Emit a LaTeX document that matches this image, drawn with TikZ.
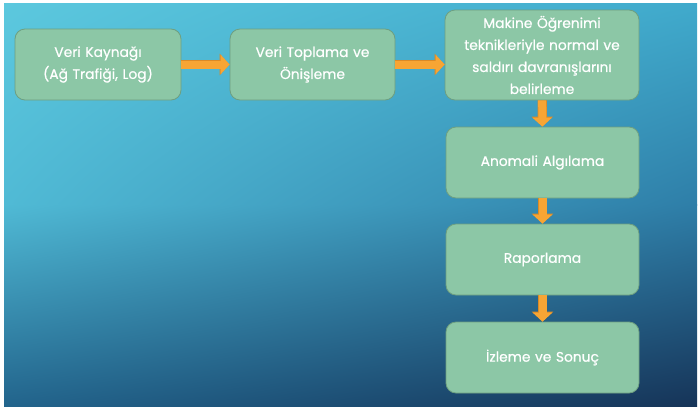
\documentclass[tikz,border=0pt]{standalone}
\usepackage{fontspec}
\setmainfont{Poppins}
\newfontfamily\stagefont{Poppins}[FakeBold=0.7]
\usetikzlibrary{arrows.meta, shadings}
\definecolor{boxfill}{HTML}{8CC7A6}
\definecolor{boxline}{HTML}{6E9F80}
\definecolor{arrowfill}{HTML}{F7A534}
\definecolor{arrowline}{HTML}{DB8A26}
\definecolor{skyA}{RGB}{92,200,222}
\definecolor{skyB}{RGB}{64,170,204}
\definecolor{skyC}{RGB}{80,186,213}
\definecolor{skyD}{RGB}{46,126,168}
\definecolor{skyE}{RGB}{34,100,140}
\definecolor{skyF}{RGB}{22,52,88}
\tikzset{
    stage/.style = {draw=boxline, fill=boxfill, line width=0.8pt, rounded corners=10pt,
        text=white, align=center, inner sep=3pt, font=\stagefont\fontsize{13.8}{22}\selectfont},
    flow/.style = {arrowfill, line width=8pt, -{Triangle[length=9pt, width=19pt]},
        preaction={draw=arrowline, line width=9.2pt, -{Triangle[length=10pt, width=21pt]}}}
}

\begin{document}
\begin{tikzpicture}[x=1pt, y=-1pt]
    \useasboundingbox (0,0) rectangle (698,410);
    \fill[white] (0,0) rectangle (698,410);
    \shade[upper left=skyA, upper right=skyB, lower left=skyC, lower right=skyD]
        (4,3) rectangle (697,205);
    \shade[upper left=skyC, upper right=skyD, lower left=skyE, lower right=skyF]
        (4,204.5) rectangle (697,406);

    \node[stage, text width=160pt, minimum height=71pt] (source) at (98,64.5)
        {Veri Kaynağı\\(Ağ Trafiği, Log)};
    \node[stage, text width=159pt, minimum height=71pt] (collect) at (312.5,64.5)
        {Veri Toplama ve\\Önişleme};
    \node[stage, text width=188pt, minimum height=90pt] (learn) at (542,55)
        {Makine Öğrenimi\\teknikleriyle normal ve\\saldırı davranışlarını\\belirleme};
    \node[stage, text width=187pt, minimum height=71pt] (detect) at (542.5,162.5)
        {Anomali Algılama};
    \node[stage, text width=187pt, minimum height=71pt] (report) at (542.5,259.5)
        {Raporlama};
    \node[stage, text width=187pt, minimum height=71pt] (monitor) at (542.5,357.5)
        {İzleme ve Sonuç};

    \draw[flow] (source) -- (collect);
    \draw[flow] (collect) -- (learn.west |- collect.east);
    \draw[flow] (learn) -- (detect);
    \draw[flow] (detect) -- (report);
    \draw[flow] (report) -- (monitor);
\end{tikzpicture}
\end{document}
